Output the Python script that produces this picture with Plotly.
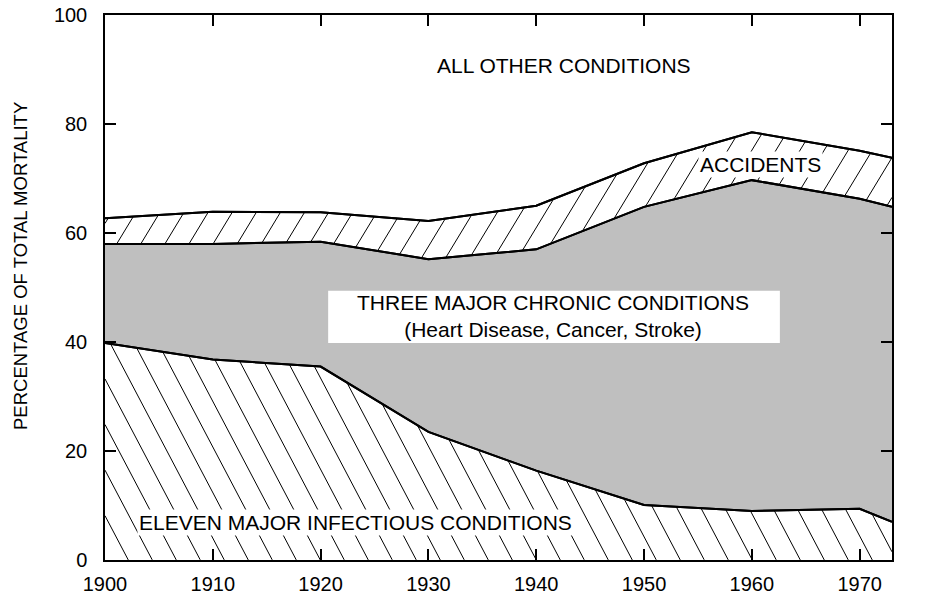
import numpy as np
import plotly.graph_objects as go

# ---------------- data ----------------
years = [1900, 1910, 1920, 1930, 1940, 1950, 1960, 1970, 1973]
infectious_top = [39.8, 36.8, 35.5, 23.5, 16.4, 10.1, 9.0, 9.4, 7.0]
chronic_top = [58.0, 58.0, 58.4, 55.2, 57.0, 64.8, 69.7, 66.3, 64.8]
accidents_top = [62.7, 63.9, 63.8, 62.2, 65.0, 72.8, 78.5, 75.1, 73.8]

x_ticks = [1900, 1910, 1920, 1930, 1940, 1950, 1960, 1970]
y_ticks = [0, 20, 40, 60, 80, 100]

label_other = "ALL OTHER CONDITIONS"
label_accidents = "ACCIDENTS"
label_chronic = "THREE MAJOR CHRONIC CONDITIONS<br>(Heart Disease, Cancer, Stroke)"
label_infectious = "ELEVEN MAJOR INFECTIOUS CONDITIONS"
y_title = "PERCENTAGE OF TOTAL MORTALITY"

# ---------------- layout geometry ----------------
W, H = 938, 596
PL, PR, PT, PB = 105, 892, 15, 560   # plot box on the page
ML, MT = PL, PT
MR = W - PR
MB = H - PB
X_RANGE = [1900, 1973]
Y_RANGE = [0, 100]
plot_w = PR - PL
plot_h = PB - PT
px_per_year = plot_w / (X_RANGE[1] - X_RANGE[0])
px_per_unit = plot_h / (Y_RANGE[1] - Y_RANGE[0])

FONT = "Liberation Sans, Arial, Helvetica, sans-serif"
GRAY = "#bfbfbf"

yrs = np.array(years, dtype=float)
inf_arr = np.array(infectious_top)
chr_arr = np.array(chronic_top)
acc_arr = np.array(accidents_top)


def hatch_lines(lower, upper, slope_px, spacing_px, anchor_px, anchor_y):
    """Clip parallel straight lines to the band lower(x) <= y <= upper(x).
    slope_px: pixel rise per pixel run (positive = up-right)."""
    slope = slope_px * px_per_year / px_per_unit      # data units per year
    spacing = spacing_px / px_per_year                # years
    x0 = X_RANGE[0] + (anchor_px - PL) / px_per_year
    xs = np.arange(X_RANGE[0], X_RANGE[1] + 1e-9, 0.01)
    lo = np.interp(xs, yrs, lower) if not np.isscalar(lower) else np.full_like(xs, lower)
    hi = np.interp(xs, yrs, upper)
    out_x, out_y = [], []
    for k in range(-80, 81):
        xk = x0 + k * spacing
        ys = anchor_y + slope * (xs - xk)
        inside = (ys >= lo) & (ys <= hi)
        if not inside.any():
            continue
        idx = np.flatnonzero(inside)
        breaks = np.flatnonzero(np.diff(idx) > 1)
        starts = np.concatenate(([idx[0]], idx[breaks + 1]))
        ends = np.concatenate((idx[breaks], [idx[-1]]))
        for s, e in zip(starts, ends):
            if e == s:
                continue
            out_x += [xs[s], xs[e], None]
            out_y += [ys[s], ys[e], None]
    return out_x, out_y


fig = go.Figure()

# infectious area (white), chronic area (gray), accidents area (white)
fig.add_trace(go.Scatter(x=years, y=infectious_top, mode="lines", fill="tozeroy",
                         fillcolor="white", line=dict(color="black", width=2),
                         hoverinfo="skip", showlegend=False))
fig.add_trace(go.Scatter(x=years, y=chronic_top, mode="lines", fill="tonexty",
                         fillcolor=GRAY, line=dict(color="black", width=2),
                         hoverinfo="skip", showlegend=False))
fig.add_trace(go.Scatter(x=years, y=accidents_top, mode="lines", fill="tonexty",
                         fillcolor="white", line=dict(color="black", width=2),
                         hoverinfo="skip", showlegend=False))

# hatching: infectious "\" , accidents "/"
hx, hy = hatch_lines(0.0, inf_arr, -1.9, 24.0, 128.3, 0.0)
fig.add_trace(go.Scatter(x=hx, y=hy, mode="lines", line=dict(color="black", width=1),
                         hoverinfo="skip", showlegend=False, connectgaps=False))
ax_, ay_ = hatch_lines(chr_arr, acc_arr, 1.65, 24.1, 116.7, chronic_top[0])
fig.add_trace(go.Scatter(x=ax_, y=ay_, mode="lines", line=dict(color="black", width=1),
                         hoverinfo="skip", showlegend=False, connectgaps=False))

# boundaries on top
for arr in (infectious_top, chronic_top, accidents_top):
    fig.add_trace(go.Scatter(x=years, y=arr, mode="lines",
                             line=dict(color="black", width=2),
                             hoverinfo="skip", showlegend=False))

# white box behind chronic label
fig.add_shape(type="rect", xref="x", yref="y", x0=1920.7, x1=1962.6, y0=39.8, y1=49.4,
              fillcolor="white", line=dict(width=0), layer="above")

ann_font = dict(family=FONT, size=21, color="black")
fig.add_annotation(x=1942.6, y=90.8, text=label_other, showarrow=False, font=ann_font)
fig.add_annotation(x=1960.8, y=72.5, text=label_accidents, showarrow=False, font=ann_font,
                   bgcolor="white", borderpad=1)
fig.add_annotation(x=1941.6, y=44.8, text=label_chronic, showarrow=False, font=ann_font)
fig.add_annotation(x=1923.2, y=6.8, text=label_infectious, showarrow=False, font=ann_font,
                   bgcolor="white", borderpad=1)
fig.add_annotation(x=(20 - PL) / plot_w, y=(PB - 266) / plot_h, xref="paper", yref="paper",
                   xanchor="center", yanchor="middle",
                   text=y_title, textangle=-90, showarrow=False,
                   font=dict(family=FONT, size=18.5, color="black"))

axis_common = dict(showline=True, linecolor="black", linewidth=1.5, mirror="allticks",
                   ticks="inside", ticklen=11, tickwidth=1.5, tickcolor="black",
                   showgrid=False, zeroline=False, automargin=False,
                   ticklabeloverflow="allow",
                   tickfont=dict(family=FONT, size=20, color="black"))
fig.update_xaxes(range=X_RANGE, tickvals=x_ticks, ticktext=[str(v) for v in x_ticks],
                 ticklabelstandoff=5, **axis_common)
fig.update_yaxes(range=Y_RANGE, tickvals=y_ticks, ticktext=[str(v) for v in y_ticks],
                 ticklabelstandoff=12, **axis_common)

fig.update_layout(width=W, height=H, margin=dict(l=ML, r=MR, t=MT, b=MB),
                  paper_bgcolor="white", plot_bgcolor="white", showlegend=False,
                  font=dict(family=FONT, color="black"))

fig.write_html("out.html", config={"displayModeBar": False},
               post_script="document.body.style.margin='0';document.body.style.overflow='hidden';")
